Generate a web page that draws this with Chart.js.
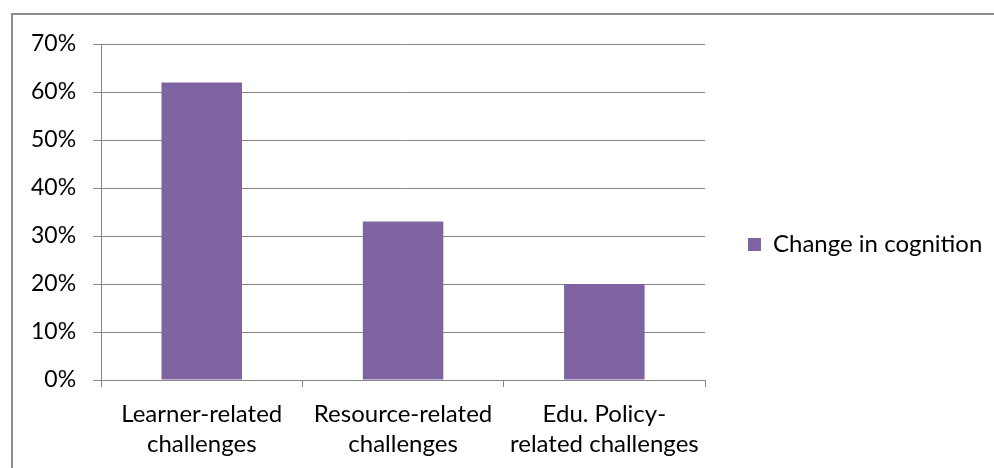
<!DOCTYPE html>
<html>
<head>
<meta charset="utf-8">
<script src="https://cdn.jsdelivr.net/npm/chart.js@4/dist/chart.umd.min.js"></script>
<style>
  html, body { margin: 0; padding: 0; background: #fff; overflow: hidden; }
  #wrap { position: relative; width: 994px; height: 468px; }
  #frame { position: absolute; left: 11px; top: 13px; width: 1100px; height: 600px; border: 2px solid #8e8e8e; box-sizing: border-box; }
  canvas { position: absolute; left: 0; top: 0; }
</style>
</head>
<body>
<div id="wrap">
  <div id="frame"></div>
  <canvas id="chart" width="994" height="468"></canvas>
</div>
<script>
const categories = [
  ['Learner-related', 'challenges'],
  ['Resource-related', 'challenges'],
  ['Edu. Policy-', 'related challenges']
];
const seriesName = 'Change in cognition';
const values = [62, 33, 20];
const yTicks = [0, 10, 20, 30, 40, 50, 60, 70];

// legend on the right gets a fixed width so the plot ends where the original does,
// and is nudged up a little to sit level with the 30% gridline
const legendPlace = {
  id: 'legendPlace',
  afterInit(chart) {
    const legend = chart.legend;
    const fit = legend.fit;
    legend.fit = function() {
      fit.call(this);
      this.width = 289;
    };
  },
  afterLayout(chart) {
    chart.legend.top -= 13;
    chart.legend.bottom -= 13;
  }
};

document.addEventListener("DOMContentLoaded", function() {
  const ctx = document.getElementById('chart');
  new Chart(ctx, {
    type: 'bar',
    data: {
      labels: categories,
      datasets: [{
        label: seriesName,
        data: values,
        backgroundColor: '#8064a2',
        borderWidth: 0,
        categoryPercentage: 0.4,
        barPercentage: 1
      }]
    },
    options: {
      responsive: false,
      animation: false,
      layout: {
        padding: { left: 14, top: 44, right: 0, bottom: -3 }
      },
      scales: {
        x: {
          grid: {
            offset: true,
            drawOnChartArea: false,
            color: '#868686',
            tickLength: 7,
            lineWidth: 1
          },
          border: { color: '#868686', width: 1 },
          ticks: {
            color: '#000',
            padding: 12,
            maxRotation: 0,
            autoSkip: false,
            font: { family: 'Lato', size: 24, lineHeight: '30px' }
          }
        },
        y: {
          min: 0,
          max: 70,
          afterBuildTicks: function(axis) {
            axis.ticks = yTicks.map(v => ({ value: v }));
          },
          grid: {
            color: '#868686',
            tickLength: 8,
            lineWidth: 1
          },
          border: { color: '#868686', width: 1 },
          ticks: {
            color: '#000',
            padding: 17,
            font: { family: 'Lato', size: 23 },
            callback: function(value) {
              return value + '%';
            }
          }
        }
      },
      plugins: {
        legend: {
          position: 'right',
          align: 'center',
          labels: {
            color: '#000',
            boxWidth: 13,
            boxHeight: 13,
            padding: 43,
            font: { family: 'Lato', size: 24 }
          }
        },
        tooltip: { enabled: false }
      }
    },
    plugins: [legendPlace]
  });
});
</script>
</body>
</html>
